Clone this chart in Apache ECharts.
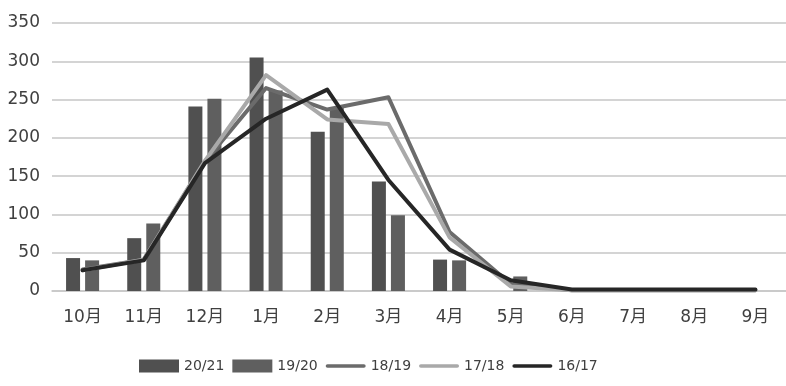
<!DOCTYPE html>
<html>
<head>
<meta charset="utf-8">
<script src="https://cdn.jsdelivr.net/npm/echarts@6/dist/echarts.min.js"></script>
<style>html,body{margin:0;padding:0;background:#fff;}#c{width:786px;height:386px;}</style>
</head>
<body>
<div id="c"></div>
<script>
var categories = ['10月','11月','12月','1月','2月','3月','4月','5月','6月','7月','8月','9月'];
var yTicks = [0, 50, 100, 150, 200, 250, 300, 350];
var s2021 = [43, 69, 241, 305, 208, 143, 41, null, null, null, null, null];
var s1920 = [40, 88, 251, 262, 240, 99, 40, 19, null, null, null, null];
var s1819 = [28, 41, 169, 265, 237, 253, 77, 9, 1, 1, 1, 1];
var s1718 = [27, 41, 170, 282, 224, 218, 70, 6, 1, 1, 1, 1];
var s1617 = [27, 40, 167, 225, 263, 145, 54, 14, 2, 2, 2, 2];

var font = "'DejaVu Sans','Noto Sans CJK SC',sans-serif";
var lineIcon = 'path://M2,0 L42,0 A2,2 0 0 1 42,4 L2,4 A2,2 0 0 1 2,0 Z';
var chart = echarts.init(document.getElementById('c'), null, {renderer: 'canvas'});
chart.setOption({
  animation: false,
  backgroundColor: '#ffffff',
  grid: {left: 52, right: -8, top: 23, bottom: 95, containLabel: false},
  legend: {
    left: 134, top: 354,
    itemWidth: 40, itemHeight: 13, itemGap: 8,
    symbolKeepAspect: true,
    textStyle: {fontFamily: font, fontSize: 14, color: '#404040'},
    data: [
      {name: '20/21', icon: 'rect'},
      {name: '19/20', icon: 'rect'},
      {name: '18/19', icon: lineIcon},
      {name: '17/18', icon: lineIcon},
      {name: '16/17', icon: lineIcon}
    ]
  },
  xAxis: {
    type: 'category',
    data: categories,
    axisTick: {show: false},
    axisLine: {lineStyle: {color: '#c6c6c6', width: 1.5}},
    axisLabel: {fontFamily: font, fontSize: 17, color: '#404040', margin: 18}
  },
  yAxis: {
    type: 'value',
    min: yTicks[0], max: yTicks[yTicks.length - 1], interval: 50,
    axisLine: {show: false},
    axisTick: {show: false},
    splitLine: {lineStyle: {color: '#c6c6c6', width: 1.5}},
    axisLabel: {fontFamily: font, fontSize: 17, color: '#404040', margin: 12}
  },
  series: [
    {name: '20/21', type: 'bar', data: s2021, barWidth: 14, barGap: '36%', itemStyle: {color: '#505050'}},
    {name: '19/20', type: 'bar', data: s1920, barWidth: 14, barGap: '36%', itemStyle: {color: '#5f5f5f'}},
    {name: '18/19', type: 'line', data: s1819, symbol: 'none', lineStyle: {color: '#6b6b6b', width: 4, cap: 'round', join: 'round'}, itemStyle: {color: '#6b6b6b'}},
    {name: '17/18', type: 'line', data: s1718, symbol: 'none', lineStyle: {color: '#a9a9a9', width: 4, cap: 'round', join: 'round'}, itemStyle: {color: '#a9a9a9'}},
    {name: '16/17', type: 'line', data: s1617, symbol: 'none', lineStyle: {color: '#262626', width: 4, cap: 'round', join: 'round'}, itemStyle: {color: '#262626'}}
  ]
});
</script>
</body>
</html>
